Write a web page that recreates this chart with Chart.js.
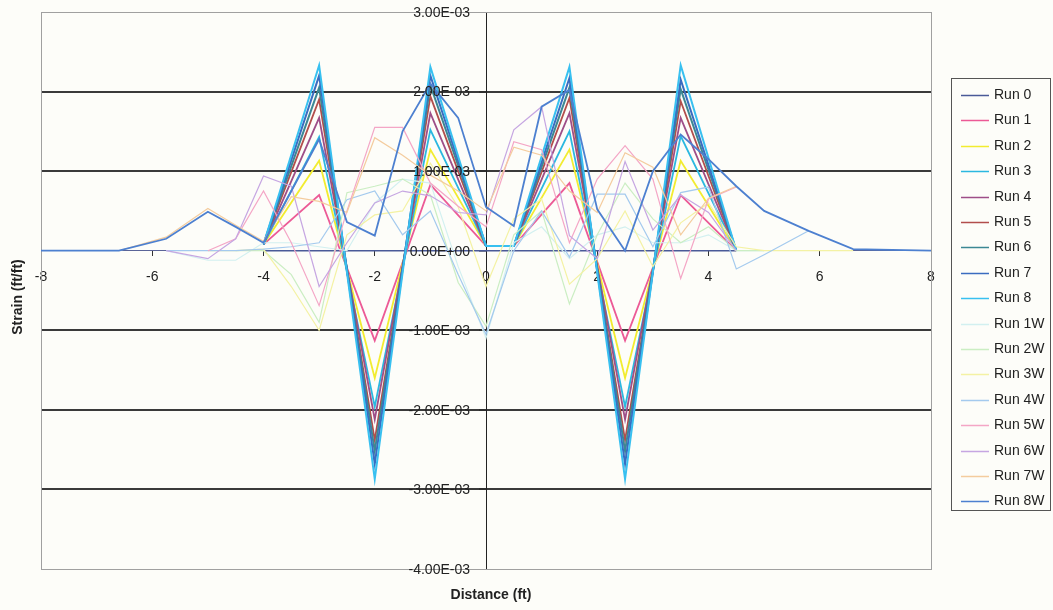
<!DOCTYPE html>
<html>
<head>
<meta charset="utf-8">
<title>Strain vs Distance</title>
<script src="https://cdn.jsdelivr.net/npm/chart.js@4.4.0/dist/chart.umd.min.js"></script>
<style>
  html, body { margin: 0; padding: 0; background: #fdfdf9; }
  canvas { display: block; }
</style>
</head>
<body>
<canvas id="strainChart" width="1053" height="610"></canvas>
<script>
// gauge positions (ft) for Run 0 - Run 8
const gaugeX = [-4, -3, -2, -1, 0, 0.5, 1.5, 2.5, 3.5, 4.5];
// gauge positions (ft) for the W runs
const gaugeXW = [-8, -6.6, -5.75, -5, -4.5, -4, -3.5, -3, -2.5, -2, -1.5, -1, -0.5,
                 0, 0.5, 1, 1.5, 2, 2.5, 3, 3.5, 4, 4.5, 5, 5.8, 6.6, 8];

// strain values, in units of 1E-03 ft/ft
const run0 = [0, 0, 0, 0, 0, 0, 0, 0, 0, 0];
const run1 = [0.08, 0.70, -1.13, 0.83, 0.06, 0.06, 0.85, -1.13, 0.70, 0.0];
const run2 = [0.08, 1.13, -1.60, 1.27, 0.06, 0.06, 1.27, -1.60, 1.13, 0.0];
const run3 = [0.08, 1.43, -1.96, 1.52, 0.06, 0.06, 1.50, -1.96, 1.44, 0.0];
const run4 = [0.08, 1.67, -2.12, 1.73, 0.06, 0.06, 1.73, -2.12, 1.67, 0.0];
const run5 = [0.08, 1.90, -2.38, 1.94, 0.06, 0.06, 1.92, -2.38, 1.88, 0.0];
const run6 = [0.08, 2.05, -2.52, 2.08, 0.06, 0.06, 2.05, -2.52, 2.03, 0.0];
const run7 = [0.08, 2.20, -2.68, 2.20, 0.06, 0.06, 2.17, -2.68, 2.15, 0.0];
const run8 = [0.08, 2.33, -2.87, 2.31, 0.06, 0.06, 2.31, -2.87, 2.33, 0.0];

const run1W = [null, null, 0, -0.12, -0.12, 0.10, 0.10, 0.05, 0.0, 0.60, 0.90, 0.85, -0.20,
               -1.10, 0.10, 0.30, -0.10, 0.20, 0.30, 0.10, 0.10, 0.20, 0, 0, null, null, null];
const run2W = [null, null, null, null, 0, 0, -0.30, -0.90, 0.73, 0.81, 0.90, 0.70, -0.40,
               -0.95, 0.20, 0.50, -0.67, 0.20, 0.85, 0.40, 0.10, 0.30, 0, 0, null, null, null];
const run3W = [null, null, null, 0, 0, 0.02, -0.45, -1.00, 0.20, 0.45, 0.50, 1.10, 0.55,
               -0.45, 0.40, 0.65, -0.42, -0.10, 0.50, -0.20, 0.35, 0.60, 0.05, 0, 0, 0, null];
const run4W = [null, null, 0, 0, 0, 0.02, 0.05, 0.10, 0.64, 0.75, 0.20, 0.50, -0.30,
               -1.05, 0.0, 0.50, -0.08, 0.71, 0.71, 0.05, 0.73, 0.80, -0.23, -0.05, 0.25, null, null];
const run5W = [null, null, null, 0, 0.15, 0.75, 0.10, -0.69, 0.50, 1.55, 1.55, 0.85, 0.56,
               0.30, 1.37, 1.27, 0.10, 0.90, 1.32, 0.90, -0.35, 0.65, 0.80, null, null, null, null];
const run6W = [null, null, 0, -0.10, 0.15, 0.94, 0.81, -0.45, 0.10, 0.60, 0.75, 0.69, 0.48,
               0.45, 1.52, 1.81, 0.19, -0.10, 1.12, 0.26, 0.70, 0.48, 0, null, null, null, null];
const run7W = [null, 0, 0.17, 0.53, 0.32, 0.12, 0.68, 0.62, 0.48, 1.42, 1.20, 0.95, 0.75,
               0.50, 1.30, 1.20, 0.75, 0.48, 1.23, 1.05, 0.20, 0.66, 0.81, null, null, null, null];
const run8W = [0, 0, 0.15, 0.49, 0.30, 0.10, 0.75, 1.40, 0.36, 0.19, 1.50, 2.10, 1.67,
               0.55, 0.31, 1.81, 2.02, 0.52, 0.0, 1.00, 1.46, 1.15, 0.81, 0.50, 0.25, 0.02, 0];

const xTicks = [-8, -6, -4, -2, 0, 2, 4, 6, 8];
const yTicks = [3, 2, 1, 0, -1, -2, -3, -4];

const series = [
  { label: 'Run 0', x: gaugeX, y: run0, color: '#4a5a98', width: 1.6 },
  { label: 'Run 1', x: gaugeX, y: run1, color: '#ec5a96', width: 1.8 },
  { label: 'Run 2', x: gaugeX, y: run2, color: '#f2ec30', width: 1.8 },
  { label: 'Run 3', x: gaugeX, y: run3, color: '#2bb8e0', width: 1.8 },
  { label: 'Run 4', x: gaugeX, y: run4, color: '#9e4e88', width: 1.8 },
  { label: 'Run 5', x: gaugeX, y: run5, color: '#b24e4c', width: 1.8 },
  { label: 'Run 6', x: gaugeX, y: run6, color: '#3c8894', width: 2 },
  { label: 'Run 7', x: gaugeX, y: run7, color: '#3a6cc0', width: 2 },
  { label: 'Run 8', x: gaugeX, y: run8, color: '#38c0f0', width: 2 },
  { label: 'Run 1W', x: gaugeXW, y: run1W, color: '#d2f0f0', width: 1.2 },
  { label: 'Run 2W', x: gaugeXW, y: run2W, color: '#cbeec3', width: 1.2 },
  { label: 'Run 3W', x: gaugeXW, y: run3W, color: '#f4f2a4', width: 1.2 },
  { label: 'Run 4W', x: gaugeXW, y: run4W, color: '#a4caee', width: 1.2 },
  { label: 'Run 5W', x: gaugeXW, y: run5W, color: '#f4a6c6', width: 1.2 },
  { label: 'Run 6W', x: gaugeXW, y: run6W, color: '#c6a6e2', width: 1.2 },
  { label: 'Run 7W', x: gaugeXW, y: run7W, color: '#f4cc9e', width: 1.2 },
  { label: 'Run 8W', x: gaugeXW, y: run8W, color: '#4d80d0', width: 1.8 }
];

// 2 -> "2.00E-03" (axis is in units of 1E-03)
function sci(v) {
  const parts = (v / 1000).toExponential(2).split('e');
  const n = parseInt(parts[1], 10);
  return parts[0] + 'E' + (n < 0 ? '-' : '+') + String(Math.abs(n)).padStart(2, '0');
}

const FONT = "'Liberation Sans', Arial, sans-serif";
const TEXT = '#222222';

// background, plot frame, y labels, axis titles and boxed legend
const frame = {
  id: 'frame',
  beforeDraw(chart) {
    const ctx = chart.ctx;
    ctx.save();
    ctx.fillStyle = '#fdfdf9';
    ctx.fillRect(0, 0, chart.width, chart.height);
    ctx.restore();
  },
  beforeDatasetsDraw(chart) {
    const { ctx, chartArea: a } = chart;
    ctx.save();
    ctx.strokeStyle = '#a0a0a0';
    ctx.lineWidth = 1;
    ctx.strokeRect(a.left + 0.5, a.top + 0.5, a.right - a.left, a.bottom - a.top);
    ctx.restore();
  },
  afterDraw(chart) {
    const { ctx, scales } = chart;

    // y tick labels sit to the left of the centre axis
    const axisX = scales.x.getPixelForValue(0);
    ctx.save();
    ctx.fillStyle = TEXT;
    ctx.font = '14px ' + FONT;
    ctx.textAlign = 'right';
    ctx.textBaseline = 'middle';
    yTicks.forEach(v => {
      ctx.fillText(sci(v), axisX - 16, scales.y.getPixelForValue(v) + 1);
    });
    ctx.restore();

    ctx.save();
    ctx.fillStyle = TEXT;
    ctx.font = 'bold 14px ' + FONT;
    ctx.textAlign = 'center';
    ctx.textBaseline = 'middle';
    ctx.fillText('Distance (ft)', 491, 595);
    ctx.translate(18, 297);
    ctx.rotate(-Math.PI / 2);
    ctx.fillText('Strain (ft/ft)', 0, 0);
    ctx.restore();

    // legend
    ctx.save();
    ctx.strokeStyle = '#555555';
    ctx.lineWidth = 1;
    ctx.strokeRect(951.5, 78.5, 99, 432);
    ctx.font = '14px ' + FONT;
    ctx.textAlign = 'left';
    ctx.textBaseline = 'middle';
    chart.data.datasets.forEach((ds, i) => {
      const y = Math.round(95 + i * 25.4) + 0.5;
      ctx.strokeStyle = ds.borderColor;
      ctx.lineWidth = 1.5;
      ctx.beginPath();
      ctx.moveTo(961, y);
      ctx.lineTo(989, y);
      ctx.stroke();
      ctx.fillStyle = TEXT;
      ctx.fillText(ds.label, 994, y);
    });
    ctx.restore();
  }
};

const datasets = series.map((s, i) => ({
  label: s.label,
  data: s.x.map((x, k) => ({ x: x, y: s.y[k] })),
  borderColor: s.color,
  backgroundColor: s.color,
  borderWidth: s.width,
  pointRadius: 0,
  tension: 0,
  fill: false,
  order: series.length - i
}));

new Chart(document.getElementById('strainChart'), {
  type: 'line',
  data: { datasets: datasets },
  options: {
    responsive: false,
    animation: false,
    devicePixelRatio: 1,
    layout: { padding: { left: 41, top: 12, right: 122, bottom: 41 } },
    plugins: {
      legend: { display: false },
      tooltip: { enabled: false }
    },
    scales: {
      x: {
        type: 'linear',
        min: -8,
        max: 8,
        position: { y: 0 },
        afterBuildTicks: axis => { axis.ticks = xTicks.map(v => ({ value: v })); },
        ticks: { font: { family: FONT, size: 14 }, color: TEXT, padding: 13, maxRotation: 0, autoSkip: false },
        grid: { drawOnChartArea: false, drawTicks: true, tickLength: 5, tickColor: '#333333', tickWidth: 1 },
        border: { display: true, color: '#5a6498', width: 1 }
      },
      y: {
        type: 'linear',
        min: -4,
        max: 3,
        position: { x: 0 },
        afterBuildTicks: axis => { axis.ticks = yTicks.map(v => ({ value: v })); },
        ticks: { display: false },
        grid: {
          drawTicks: true,
          tickLength: 7,
          tickColor: '#222222',
          tickWidth: 1,
          color: c => (c.tick.value === 0 ? 'rgba(0,0,0,0)' :
                       (c.tick.value === 3 || c.tick.value === -4) ? '#a0a0a0' : '#3a3a3a'),
          lineWidth: c => (c.tick.value === 3 || c.tick.value === -4 ? 1 : 2)
        },
        border: { display: true, color: '#222222', width: 1 }
      }
    }
  },
  plugins: [frame]
});
</script>
</body>
</html>
